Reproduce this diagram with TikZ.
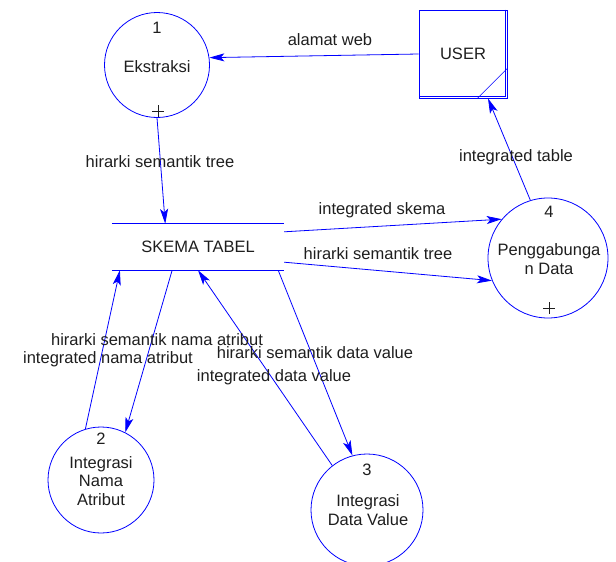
\documentclass[tikz,border=0pt]{standalone}
\usepackage{fontspec}
\setmainfont{Liberation Sans}
\usepackage{tikz}
\usetikzlibrary{calc,arrows.meta,positioning}
\definecolor{dfdBlue}{RGB}{0,0,255}
\definecolor{dfdText}{RGB}{30,30,30}
\tikzset{
  process/.style={circle, draw=dfdBlue, line width=0.8pt, inner sep=0pt},
  flow/.style={draw=dfdBlue, line width=0.8pt, -{Stealth[length=15pt,width=8pt,inset=3.5pt]}},
  txt/.style={font=\fontsize{16.5}{18.5}\selectfont, text=dfdText, inner sep=1pt},
  plusmark/.style={draw=dfdText, line width=0.8pt}
}

\begin{document}
\begin{tikzpicture}[x=1pt,y=-1pt]
    \useasboundingbox (0,0) rectangle (616,562);

    % processes
    \node[process, minimum size=105pt] (ekstraksi) at (157,65) {};
    \node[process, minimum size=120pt] (gabung) at (548,258) {};
    \node[process, minimum size=106pt] (atribut) at (101,480) {};
    \node[process, minimum size=112pt] (value) at (367,510) {};

    \node[txt] (num1) at (157,28) {1};
    \node[txt] (ekstraksiText) at (157,67) {Ekstraksi};
    \node[txt] (num4) at (549,212) {4};
    \node[txt, align=center] (gabungText) at (549,259) {Penggabunga\\n Data};
    \node[txt] (num2) at (101,439) {2};
    \node[txt, align=center] (atributText) at (101,481) {Integrasi\\Nama\\Atribut};
    \node[txt] (num3) at (367,470) {3};
    \node[txt, align=center] (valueText) at (368,510) {Integrasi\\Data Value};

    % plus marks
    \coordinate (plus1) at (158,111);
    \coordinate (plus4) at (549,308);
    \foreach \p in {plus1,plus4}
        \draw[plusmark] (\p) +(-6,0) -- +(6,0) (\p) +(0,-6) -- +(0,6);

    % external entity
    \node[draw=dfdBlue, line width=0.8pt, minimum size=88pt, txt] (user) at (463,54) {USER};
    \draw[dfdBlue, line width=0.8pt] ($(user.north east)+(-2,0)$) -- ($(user.south east)+(-2,-2)$) -- ($(user.south west)+(0,-2)$);
    \draw[dfdBlue, line width=0.6pt] ($(user.south east)+(-30,0)$) -- ($(user.south east)+(0,-30)$);

    % data store
    \node[minimum width=172pt, minimum height=46pt, txt] (skema) at (198,247) {SKEMA TABEL};
    \draw[dfdBlue, line width=0.8pt] (skema.north west) -- (skema.north east);
    \draw[dfdBlue, line width=0.8pt] (skema.south west) -- (skema.south east);

    % flows
    \draw[flow] (user.west) -- (ekstraksi.8);
    \draw[flow] (ekstraksi.south) -- ($(skema.north west)!0.31!(skema.north east)$);
    \draw[flow] ($(skema.north east)+(0,8)$) -- (gabung.140);
    \draw[flow] ($(skema.south east)+(0,-8)$) -- (gabung.202);
    \draw[flow] (gabung.107) -- ($(user.south)+(25,0)$);
    \draw[flow] (atribut.107) -- ($(skema.south west)!0.047!(skema.south east)$);
    \draw[flow] ($(skema.south west)!0.35!(skema.south east)$) -- (atribut.63);
    \draw[flow] (value.128) -- ($(skema.south west)!0.5!(skema.south east)$);
    \draw[flow] ($(skema.south west)!0.965!(skema.south east)$) -- (value.105);

    % flow labels
    \node[txt] (lblWeb) at (330,40) {alamat web};
    \node[txt] (lblTree) at (160,162) {hirarki semantik tree};
    \node[txt] (lblSkema) at (382,210) {integrated skema};
    \node[txt] (lblTree2) at (378,254) {hirarki semantik tree};
    \node[txt] (lblTable) at (516,157) {integrated table};
    \node[txt] (lblNama) at (157,340) {hirarki semantik nama atribut};
    \node[txt] (lblNama2) at (108,359) {integrated nama atribut};
    \node[txt] (lblValue) at (315,353) {hirarki semantik data value};
    \node[txt] (lblValue2) at (274,377) {integrated data value};
\end{tikzpicture}
\end{document}
